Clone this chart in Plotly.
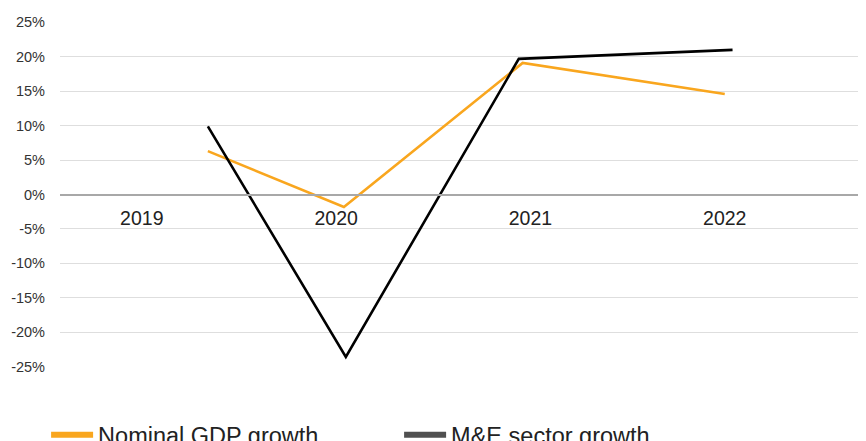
import plotly.graph_objects as go

years = ["2019", "2020", "2021", "2022"]
year_pos = [0, 1, 2, 3]

# estimated x positions (in category units) where each series' points were drawn
gdp_x = [0.34, 1.04, 1.96, 3.0]
gdp_growth = [6.3, -1.8, 19.1, 14.6]

me_x = [0.34, 1.05, 1.94, 3.04]
me_growth = [9.9, -23.6, 19.7, 21.0]

y_ticks = [-25, -20, -15, -10, -5, 0, 5, 10, 15, 20, 25]
y_labels = [f"{v}%" for v in y_ticks]

ORANGE = "#F9A61E"
BLACK = "#000000"
LEGEND_GRAY = "#505050"
FONT = "Liberation Sans, Arial, sans-serif"

fig = go.Figure()
fig.add_trace(go.Scatter(x=gdp_x, y=gdp_growth, mode="lines",
                         line=dict(color=ORANGE, width=2.6), showlegend=False))
fig.add_trace(go.Scatter(x=me_x, y=me_growth, mode="lines",
                         line=dict(color=BLACK, width=2.6), showlegend=False))
# legend entries
fig.add_trace(go.Scatter(x=[None], y=[None], mode="lines", name="Nominal GDP growth",
                         line=dict(color=ORANGE, width=6)))
fig.add_trace(go.Scatter(x=[None], y=[None], mode="lines", name="M&E sector growth",
                         line=dict(color=LEGEND_GRAY, width=6)))

fig.update_layout(
    width=866, height=441,
    margin=dict(l=52, r=0, t=14, b=82, autoexpand=False),
    paper_bgcolor="white", plot_bgcolor="white",
    font=dict(family=FONT, color="#333333"),
    xaxis=dict(
        range=[-0.421, 3.768], tickvals=year_pos, ticktext=years,
        anchor="free", position=0.5,
        showgrid=False, zeroline=False,
        showline=True, linecolor="#a8a8a8", linewidth=1.5,
        ticks="", tickfont=dict(size=19.5, color="#222222"),
        ticklabelstandoff=6,
    ),
    yaxis=dict(
        range=[-25.05, 25.05], tickvals=y_ticks, ticktext=y_labels,
        showgrid=True, gridcolor="#dedede", gridwidth=1,
        zeroline=False, showline=False,
        ticks="", tickfont=dict(size=14.5, color="#333333"),
        ticklabelstandoff=14,
    ),
    legend=dict(
        orientation="h", xref="container", yref="container",
        x=0.044, y=0.032, xanchor="left", yanchor="middle",
        font=dict(size=23.5, color="#222222"),
        entrywidth=296, entrywidthmode="pixels",
        itemwidth=42, bgcolor="rgba(0,0,0,0)",
    ),
)

fig.write_html("out.html")
